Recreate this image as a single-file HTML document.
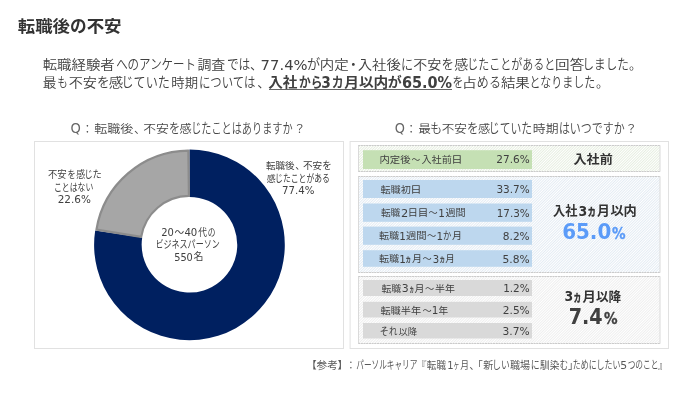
<!DOCTYPE html>
<html lang="ja">
<head>
<meta charset="utf-8">
<title>転職後の不安</title>
<style>
html,body{margin:0;padding:0;background:#fff;}
body{width:700px;height:400px;overflow:hidden;font-family:'DejaVu Sans','Liberation Sans','Noto Sans CJK JP',sans-serif;}
svg{display:block;}
</style>
</head>
<body>
<svg width="700" height="400" viewBox="0 0 700 400" font-family='"DejaVu Sans","Liberation Sans","Noto Sans CJK JP",sans-serif'>
<defs>
<pattern id="hg" width="1.9" height="1.9" patternUnits="userSpaceOnUse" patternTransform="rotate(-45)"><rect width="1.9" height="1.9" fill="#ffffff"/><rect width="1.9" height="0.85" fill="#e4eddd"/></pattern>
<pattern id="hb" width="1.9" height="1.9" patternUnits="userSpaceOnUse" patternTransform="rotate(-45)"><rect width="1.9" height="1.9" fill="#ffffff"/><rect width="1.9" height="0.85" fill="#e0e9f2"/></pattern>
<pattern id="hx" width="1.9" height="1.9" patternUnits="userSpaceOnUse" patternTransform="rotate(-45)"><rect width="1.9" height="1.9" fill="#ffffff"/><rect width="1.9" height="0.85" fill="#ececec"/></pattern>
</defs>
<rect width="700" height="400" fill="#ffffff"/>

<text y="33.3" font-size="18" fill="#333333" font-weight="bold"><tspan x="17.75" textLength="52.20" lengthAdjust="spacingAndGlyphs" y="32.19" font-size="15.66">転職後</tspan><tspan x="70.07" textLength="16.62" lengthAdjust="spacingAndGlyphs" y="32.19" font-size="17.23">の</tspan><tspan x="86.65" textLength="34.95" lengthAdjust="spacingAndGlyphs" y="32.19" font-size="15.66">不安</tspan></text>
<text y="69.6" font-size="14.67" fill="#404040"><tspan x="42.65" textLength="72.15" lengthAdjust="spacingAndGlyphs" y="69.05" font-size="12.68" font-weight="350">転職経験者</tspan><tspan x="116.14" textLength="79.97" lengthAdjust="spacingAndGlyphs" y="69.05" font-size="13.69" font-weight="350">へのアンケート</tspan><tspan x="197.40" textLength="27.94" lengthAdjust="spacingAndGlyphs" y="69.05" font-size="12.68" font-weight="350">調査</tspan><tspan x="226.90" textLength="23.45" lengthAdjust="spacingAndGlyphs" y="69.05" font-size="13.69" font-weight="350">では</tspan><tspan x="249.91" y="69.05" font-size="12.68" font-weight="350">、</tspan><tspan x="260.64" textLength="46.96" lengthAdjust="spacingAndGlyphs" y="69.60">77.4%</tspan><tspan x="306.92" textLength="13.18" lengthAdjust="spacingAndGlyphs" y="69.05" font-size="13.69" font-weight="350">が</tspan><tspan x="319.88" textLength="28.98" lengthAdjust="spacingAndGlyphs" y="69.05" font-size="12.68" font-weight="350">内定</tspan><tspan x="346.40" y="69.05" font-size="13.69" font-weight="350">・</tspan><tspan x="357.65" textLength="43.20" lengthAdjust="spacingAndGlyphs" y="69.05" font-size="12.68" font-weight="350">入社後</tspan><tspan x="400.93" textLength="12.15" lengthAdjust="spacingAndGlyphs" y="69.05" font-size="13.69" font-weight="350">に</tspan><tspan x="413.15" textLength="28.19" lengthAdjust="spacingAndGlyphs" y="69.05" font-size="12.68" font-weight="350">不安</tspan><tspan x="441.61" textLength="12.47" lengthAdjust="spacingAndGlyphs" y="69.05" font-size="13.69" font-weight="350">を</tspan><tspan x="454.26" textLength="13.98" lengthAdjust="spacingAndGlyphs" y="69.05" font-size="12.68" font-weight="350">感</tspan><tspan x="467.33" textLength="88.06" lengthAdjust="spacingAndGlyphs" y="69.05" font-size="13.69" font-weight="350">じたことがあると</tspan><tspan x="555.14" textLength="29.21" lengthAdjust="spacingAndGlyphs" y="69.05" font-size="12.68" font-weight="350">回答</tspan><tspan x="582.53" textLength="46.36" lengthAdjust="spacingAndGlyphs" y="69.05" font-size="13.69" font-weight="350">しました</tspan><tspan x="629.04" y="69.05" font-size="12.68" font-weight="350">。</tspan></text>
<text y="87.9" font-size="14.67" fill="#404040"><tspan x="42.66" textLength="13.69" lengthAdjust="spacingAndGlyphs" y="87.04" font-size="12.79" font-weight="350">最</tspan><tspan x="57.16" textLength="10.51" lengthAdjust="spacingAndGlyphs" y="87.04" font-size="13.81" font-weight="350">も</tspan><tspan x="68.65" textLength="28.19" lengthAdjust="spacingAndGlyphs" y="87.04" font-size="12.79" font-weight="350">不安</tspan><tspan x="97.05" textLength="12.67" lengthAdjust="spacingAndGlyphs" y="87.04" font-size="13.81" font-weight="350">を</tspan><tspan x="108.66" textLength="14.44" lengthAdjust="spacingAndGlyphs" y="87.04" font-size="12.79" font-weight="350">感</tspan><tspan x="121.54" textLength="48.35" lengthAdjust="spacingAndGlyphs" y="87.04" font-size="13.81" font-weight="350">じていた</tspan><tspan x="171.39" textLength="26.71" lengthAdjust="spacingAndGlyphs" y="87.04" font-size="12.79" font-weight="350">時期</tspan><tspan x="198.89" textLength="56.46" lengthAdjust="spacingAndGlyphs" y="87.04" font-size="13.81" font-weight="350">については</tspan><tspan x="257.36" y="87.04" font-size="12.79" font-weight="350">、</tspan><tspan x="268.25" textLength="29.25" lengthAdjust="spacingAndGlyphs" font-weight="bold" y="87.04" font-size="13.25">入社</tspan><tspan x="298.94" textLength="23.48" lengthAdjust="spacingAndGlyphs" font-weight="bold" y="87.04" font-size="13.37">から</tspan><tspan x="321.37" textLength="9.53" lengthAdjust="spacingAndGlyphs" font-weight="bold" font-size="16" y="87.60">3</tspan><tspan x="331.84" textLength="11.85" lengthAdjust="spacingAndGlyphs" font-weight="bold" y="87.04" font-size="13.37">カ</tspan><tspan x="344.20" textLength="44.10" lengthAdjust="spacingAndGlyphs" font-weight="bold" y="87.04" font-size="13.25">月以内</tspan><tspan x="387.67" textLength="13.94" lengthAdjust="spacingAndGlyphs" font-weight="bold" y="87.04" font-size="13.37">が</tspan><tspan x="401.90" textLength="50.20" lengthAdjust="spacingAndGlyphs" font-weight="bold" font-size="16" y="87.60">65.0%</tspan><tspan x="452.59" textLength="10.84" lengthAdjust="spacingAndGlyphs" y="87.04" font-size="13.81" font-weight="350">を</tspan><tspan x="461.91" textLength="14.78" lengthAdjust="spacingAndGlyphs" y="87.04" font-size="12.79" font-weight="350">占</tspan><tspan x="476.87" textLength="24.05" lengthAdjust="spacingAndGlyphs" y="87.04" font-size="13.81" font-weight="350">める</tspan><tspan x="500.90" textLength="28.94" lengthAdjust="spacingAndGlyphs" y="87.04" font-size="12.79" font-weight="350">結果</tspan><tspan x="529.60" textLength="65.51" lengthAdjust="spacingAndGlyphs" y="87.04" font-size="13.81" font-weight="350">となりました</tspan><tspan x="595.98" y="87.04" font-size="12.79" font-weight="350">。</tspan></text>
<rect x="269" y="89" width="183" height="0.9" fill="#555555"/>
<text y="133.2" font-size="13.3" fill="#484848"><tspan x="70.51" textLength="10.33" lengthAdjust="spacingAndGlyphs" y="133.20" fill="#666666">Q</tspan><tspan x="81.42" y="132.91" font-size="11.80" font-weight="350">：</tspan><tspan x="94.25" textLength="39.14" lengthAdjust="spacingAndGlyphs" y="132.91" font-size="11.80" font-weight="350">転職後</tspan><tspan x="133.97" y="132.91" font-size="11.80" font-weight="350">、</tspan><tspan x="143.15" textLength="25.69" lengthAdjust="spacingAndGlyphs" y="132.91" font-size="11.80" font-weight="350">不安</tspan><tspan x="169.08" textLength="11.15" lengthAdjust="spacingAndGlyphs" y="132.91" font-size="13.81" font-weight="350">を</tspan><tspan x="179.41" textLength="12.18" lengthAdjust="spacingAndGlyphs" y="132.91" font-size="11.80" font-weight="350">感</tspan><tspan x="191.13" textLength="101.47" lengthAdjust="spacingAndGlyphs" y="132.91" font-size="13.81" font-weight="350">じたことはありますか</tspan><tspan x="293.67" y="132.91" font-size="11.80" font-weight="350">？</tspan></text>
<text y="133.2" font-size="13.3" fill="#484848"><tspan x="394.66" textLength="10.18" lengthAdjust="spacingAndGlyphs" y="133.20" fill="#666666">Q</tspan><tspan x="405.22" y="132.91" font-size="11.80" font-weight="350">：</tspan><tspan x="418.16" textLength="12.69" lengthAdjust="spacingAndGlyphs" y="132.91" font-size="11.80" font-weight="350">最</tspan><tspan x="430.08" textLength="12.15" lengthAdjust="spacingAndGlyphs" y="132.91" font-size="13.81" font-weight="350">も</tspan><tspan x="441.65" textLength="25.19" lengthAdjust="spacingAndGlyphs" y="132.91" font-size="11.80" font-weight="350">不安</tspan><tspan x="467.02" textLength="11.53" lengthAdjust="spacingAndGlyphs" y="132.91" font-size="13.81" font-weight="350">を</tspan><tspan x="477.91" textLength="12.18" lengthAdjust="spacingAndGlyphs" y="132.91" font-size="11.80" font-weight="350">感</tspan><tspan x="488.81" textLength="43.32" lengthAdjust="spacingAndGlyphs" y="132.91" font-size="13.81" font-weight="350">じていた</tspan><tspan x="532.89" textLength="25.71" lengthAdjust="spacingAndGlyphs" y="132.91" font-size="11.80" font-weight="350">時期</tspan><tspan x="558.90" textLength="65.70" lengthAdjust="spacingAndGlyphs" y="132.91" font-size="13.81" font-weight="350">はいつですか</tspan><tspan x="625.17" y="132.91" font-size="11.80" font-weight="350">？</tspan></text>
<rect x="34.5" y="141.5" width="309" height="207" fill="#ffffff" stroke="#e1e1e1" stroke-width="1"/>
<rect x="350.1" y="141.5" width="318.4" height="207" fill="#ffffff" stroke="#e1e1e1" stroke-width="1"/>
<path d="M189.45 149.45 A95.35 95.35 0 1 1 95.18 230.48 L142.19 237.62 A47.80 47.80 0 1 0 189.45 197.00 Z" fill="#002060"/>
<path d="M96.44 229.59 A94.25 94.25 0 0 1 188.38 150.56 L188.90 195.90 A48.90 48.90 0 0 0 141.19 236.91 Z" fill="#a6a6a6" stroke="#8c8c8c" stroke-width="2.2" stroke-linejoin="round"/>
<text y="178.6" font-size="10.4" fill="#404040"><tspan x="47.91" textLength="18.68" lengthAdjust="spacingAndGlyphs" y="178.47" font-size="9.73" font-weight="400">不安</tspan><tspan x="67.38" textLength="8.24" lengthAdjust="spacingAndGlyphs" y="178.47" font-size="10.70" font-weight="400">を</tspan><tspan x="76.15" textLength="8.96" lengthAdjust="spacingAndGlyphs" y="178.47" font-size="9.73" font-weight="400">感</tspan><tspan x="84.43" textLength="8.26" lengthAdjust="spacingAndGlyphs" y="178.47" font-size="10.70" font-weight="400">じ</tspan><tspan x="92.38" textLength="9.23" lengthAdjust="spacingAndGlyphs" y="178.47" font-size="10.70" font-weight="400">た</tspan></text>
<text y="190.8" font-size="10.4" fill="#404040"><tspan x="53.89" textLength="39.47" lengthAdjust="spacingAndGlyphs" y="190.77" font-size="10.70" font-weight="400">ことはない</tspan></text>
<text y="202.7" font-size="10.4" fill="#404040"><tspan x="57.65" textLength="33.19" lengthAdjust="spacingAndGlyphs" y="202.70">22.6%</tspan></text>
<text y="169.1" font-size="10.4" fill="#404040"><tspan x="265.90" textLength="28.71" lengthAdjust="spacingAndGlyphs" y="169.08" font-size="9.62" font-weight="400">転職後</tspan><tspan x="295.15" y="169.08" font-size="9.62" font-weight="400">、</tspan><tspan x="302.91" textLength="19.19" lengthAdjust="spacingAndGlyphs" y="169.08" font-size="9.62" font-weight="400">不安</tspan><tspan x="322.36" textLength="9.54" lengthAdjust="spacingAndGlyphs" y="169.08" font-size="10.58" font-weight="400">を</tspan></text>
<text y="181.6" font-size="10.4" fill="#404040"><tspan x="266.65" textLength="8.96" lengthAdjust="spacingAndGlyphs" y="181.58" font-size="9.62" font-weight="400">感</tspan><tspan x="275.12" textLength="54.75" lengthAdjust="spacingAndGlyphs" y="181.58" font-size="10.58" font-weight="400">じたことがある</tspan></text>
<text y="193.7" font-size="10.4" fill="#404040"><tspan x="281.90" textLength="32.45" lengthAdjust="spacingAndGlyphs" y="193.70">77.4%</tspan></text>
<text y="235.7" font-size="10.4" fill="#404040"><tspan x="161.16" textLength="12.68" lengthAdjust="spacingAndGlyphs" y="235.70">20</tspan><tspan x="174.41" textLength="9.67" lengthAdjust="spacingAndGlyphs" y="235.97" font-size="9.73" font-weight="400">～</tspan><tspan x="184.41" textLength="12.92" lengthAdjust="spacingAndGlyphs" y="235.70">40</tspan><tspan x="198.14" textLength="8.72" lengthAdjust="spacingAndGlyphs" y="235.97" font-size="9.73" font-weight="400">代</tspan><tspan x="207.67" textLength="7.67" lengthAdjust="spacingAndGlyphs" y="235.97" font-size="10.70" font-weight="400">の</tspan></text>
<text y="248.4" font-size="10.4" fill="#404040"><tspan x="155.39" textLength="64.46" lengthAdjust="spacingAndGlyphs" y="248.27" font-size="10.70" font-weight="400">ビジネスパーソン</tspan></text>
<text y="260.5" font-size="10.4" fill="#404040"><tspan x="174.16" textLength="18.69" lengthAdjust="spacingAndGlyphs" y="260.50">550</tspan><tspan x="193.40" textLength="9.95" lengthAdjust="spacingAndGlyphs" y="260.47" font-size="9.73" font-weight="400">名</tspan></text>
<rect x="358.5" y="145.5" width="301.5" height="26.0" fill="url(#hg)"/><path d="M358.0 145.5H660.5M358.0 171.5H660.5" stroke="#cbcbcb" stroke-width="1" stroke-dasharray="2.2 0.5" fill="none"/><path d="M358.5 145.5V171.5M660.0 145.5V171.5" stroke="#dadada" stroke-width="1" fill="none"/>
<rect x="358.5" y="176.5" width="301.5" height="96.0" fill="url(#hb)"/><path d="M358.0 176.5H660.5M358.0 272.5H660.5" stroke="#cbcbcb" stroke-width="1" stroke-dasharray="2.2 0.5" fill="none"/><path d="M358.5 176.5V272.5M660.0 176.5V272.5" stroke="#dadada" stroke-width="1" fill="none"/>
<rect x="358.5" y="276.5" width="301.5" height="67.0" fill="url(#hx)"/><path d="M358.0 276.5H660.5M358.0 343.5H660.5" stroke="#cbcbcb" stroke-width="1" stroke-dasharray="2.2 0.5" fill="none"/><path d="M358.5 276.5V343.5M660.0 276.5V343.5" stroke="#dadada" stroke-width="1" fill="none"/>
<rect x="363" y="150.2" width="169" height="18.8" fill="#c5e0b4"/>
<text y="163.4" font-size="10.4" fill="#404040"><tspan x="379.41" textLength="31.19" lengthAdjust="spacingAndGlyphs" y="163.01" font-size="9.18" font-weight="400">内定後</tspan><tspan x="411.42" textLength="8.67" lengthAdjust="spacingAndGlyphs" y="163.01" font-size="9.18" font-weight="400">～</tspan><tspan x="421.40" textLength="30.44" lengthAdjust="spacingAndGlyphs" y="163.01" font-size="9.18" font-weight="400">入社前</tspan><tspan x="451.33" textLength="11.33" lengthAdjust="spacingAndGlyphs" y="163.01" font-size="9.18" font-weight="400">日</tspan><tspan x="496.35" textLength="33.35" lengthAdjust="spacingAndGlyphs" y="163.40">27.6%</tspan></text>
<rect x="363" y="180.0" width="169" height="18.0" fill="#bdd7ee"/>
<text y="192.9" font-size="10.4" fill="#404040"><tspan x="380.40" textLength="30.44" lengthAdjust="spacingAndGlyphs" y="192.51" font-size="9.18" font-weight="400">転職初</tspan><tspan x="410.33" textLength="11.33" lengthAdjust="spacingAndGlyphs" y="192.51" font-size="9.18" font-weight="400">日</tspan><tspan x="496.40" textLength="33.30" lengthAdjust="spacingAndGlyphs" y="192.90">33.7%</tspan></text>
<rect x="363" y="203.5" width="169" height="18.3" fill="#bdd7ee"/>
<text y="216.7" font-size="10.4" fill="#404040"><tspan x="380.90" textLength="19.40" lengthAdjust="spacingAndGlyphs" y="216.31" font-size="9.18" font-weight="400">転職</tspan><tspan x="401.13" textLength="7.24" lengthAdjust="spacingAndGlyphs" y="216.70">2</tspan><tspan x="407.66" textLength="10.18" lengthAdjust="spacingAndGlyphs" y="216.31" font-size="9.18" font-weight="400">日</tspan><tspan x="417.68" textLength="10.64" lengthAdjust="spacingAndGlyphs" y="216.31" font-size="9.18" font-weight="400">目</tspan><tspan x="428.41" textLength="9.12" lengthAdjust="spacingAndGlyphs" y="216.31" font-size="9.18" font-weight="400">～</tspan><tspan x="438.30" y="216.70">1</tspan><tspan x="445.40" textLength="20.19" lengthAdjust="spacingAndGlyphs" y="216.31" font-size="9.18" font-weight="400">週間</tspan><tspan x="496.65" textLength="33.06" lengthAdjust="spacingAndGlyphs" y="216.70">17.3%</tspan></text>
<rect x="363" y="226.6" width="169" height="18.2" fill="#bdd7ee"/>
<text y="239.7" font-size="10.4" fill="#404040"><tspan x="378.91" textLength="20.20" lengthAdjust="spacingAndGlyphs" y="239.31" font-size="9.18" font-weight="400">転職</tspan><tspan x="399.30" y="239.70">1</tspan><tspan x="405.90" textLength="20.69" lengthAdjust="spacingAndGlyphs" y="239.31" font-size="9.18" font-weight="400">週間</tspan><tspan x="426.91" textLength="9.17" lengthAdjust="spacingAndGlyphs" y="239.31" font-size="9.18" font-weight="400">～</tspan><tspan x="436.55" y="239.70">1</tspan><tspan x="442.88" textLength="8.26" lengthAdjust="spacingAndGlyphs" y="239.31" font-size="10.10" font-weight="400">か</tspan><tspan x="451.90" textLength="10.03" lengthAdjust="spacingAndGlyphs" y="239.31" font-size="9.18" font-weight="400">月</tspan><tspan x="502.81" textLength="26.89" lengthAdjust="spacingAndGlyphs" y="239.70">8.2%</tspan></text>
<rect x="363" y="250.2" width="169" height="16.6" fill="#bdd7ee"/>
<text y="262.7" font-size="10.4" fill="#404040"><tspan x="378.91" textLength="20.20" lengthAdjust="spacingAndGlyphs" y="262.31" font-size="9.18" font-weight="400">転職</tspan><tspan x="399.30" y="262.70">1</tspan><tspan x="405.33" textLength="6.11" lengthAdjust="spacingAndGlyphs" y="262.31" font-size="9.18" font-weight="400" stroke="#404040" stroke-width="0.3" stroke-linejoin="round">ヵ</tspan><tspan x="411.90" textLength="10.03" lengthAdjust="spacingAndGlyphs" y="262.31" font-size="9.18" font-weight="400">月</tspan><tspan x="422.41" textLength="9.17" lengthAdjust="spacingAndGlyphs" y="262.31" font-size="9.18" font-weight="400">～</tspan><tspan x="432.66" textLength="6.45" lengthAdjust="spacingAndGlyphs" y="262.70">3</tspan><tspan x="439.33" textLength="6.11" lengthAdjust="spacingAndGlyphs" y="262.31" font-size="9.18" font-weight="400" stroke="#404040" stroke-width="0.3" stroke-linejoin="round">ヵ</tspan><tspan x="445.39" textLength="9.54" lengthAdjust="spacingAndGlyphs" y="262.31" font-size="9.18" font-weight="400">月</tspan><tspan x="502.55" textLength="27.15" lengthAdjust="spacingAndGlyphs" y="262.70">5.8%</tspan></text>
<rect x="363" y="280.0" width="169" height="16.0" fill="#d9d9d9"/>
<text y="292.4" font-size="10.4" fill="#404040"><tspan x="381.40" textLength="19.71" lengthAdjust="spacingAndGlyphs" y="292.01" font-size="9.18" font-weight="400">転職</tspan><tspan x="401.65" textLength="6.95" lengthAdjust="spacingAndGlyphs" y="292.40">3</tspan><tspan x="409.15" textLength="4.94" lengthAdjust="spacingAndGlyphs" y="292.01" font-size="9.18" font-weight="400" stroke="#404040" stroke-width="0.3" stroke-linejoin="round">ヵ</tspan><tspan x="414.40" textLength="10.03" lengthAdjust="spacingAndGlyphs" y="292.01" font-size="9.18" font-weight="400">月</tspan><tspan x="424.91" textLength="9.17" lengthAdjust="spacingAndGlyphs" y="292.01" font-size="9.18" font-weight="400">～</tspan><tspan x="435.10" textLength="19.99" lengthAdjust="spacingAndGlyphs" y="292.01" font-size="9.18" font-weight="400">半年</tspan><tspan x="503.15" textLength="26.56" lengthAdjust="spacingAndGlyphs" y="292.40">1.2%</tspan></text>
<rect x="363" y="301.8" width="169" height="15.7" fill="#d9d9d9"/>
<text y="314.2" font-size="10.4" fill="#404040"><tspan x="380.40" textLength="40.69" lengthAdjust="spacingAndGlyphs" y="313.81" font-size="9.18" font-weight="400">転職半年</tspan><tspan x="422.41" textLength="9.17" lengthAdjust="spacingAndGlyphs" y="313.81" font-size="9.18" font-weight="400">～</tspan><tspan x="431.77" y="314.20">1</tspan><tspan x="438.41" textLength="9.67" lengthAdjust="spacingAndGlyphs" y="313.81" font-size="9.18" font-weight="400">年</tspan><tspan x="502.81" textLength="26.89" lengthAdjust="spacingAndGlyphs" y="314.20">2.5%</tspan></text>
<rect x="363" y="323.0" width="169" height="15.5" fill="#d9d9d9"/>
<text y="335.4" font-size="10.4" fill="#404040"><tspan x="379.86" textLength="9.03" lengthAdjust="spacingAndGlyphs" y="335.01" font-size="10.10" font-weight="400">そ</tspan><tspan x="388.92" textLength="8.44" lengthAdjust="spacingAndGlyphs" y="335.01" font-size="10.10" font-weight="400">れ</tspan><tspan x="398.40" textLength="18.71" lengthAdjust="spacingAndGlyphs" y="335.01" font-size="9.18" font-weight="400">以降</tspan><tspan x="502.55" textLength="27.15" lengthAdjust="spacingAndGlyphs" y="335.40">3.7%</tspan></text>
<text y="164.4" font-size="13.4" fill="#333333" font-weight="bold"><tspan x="573.55" textLength="39.19" lengthAdjust="spacingAndGlyphs" y="164.11" font-size="12.06">入社前</tspan></text>
<text y="216.2" font-size="13.4" fill="#333333" font-weight="bold"><tspan x="552.91" textLength="24.45" lengthAdjust="spacingAndGlyphs" y="215.17" font-size="12.59">入社</tspan><tspan x="578.38" textLength="8.73" lengthAdjust="spacingAndGlyphs" y="216.20">3</tspan><tspan x="587.01" textLength="9.55" lengthAdjust="spacingAndGlyphs" y="215.17" font-size="12.59" stroke="#333333" stroke-width="0.35" stroke-linejoin="round">ヵ</tspan><tspan x="596.90" textLength="12.81" lengthAdjust="spacingAndGlyphs" y="215.17" font-size="12.59">月</tspan><tspan x="610.40" textLength="26.45" lengthAdjust="spacingAndGlyphs" y="215.17" font-size="12.59">以内</tspan></text>
<text y="239.3" font-size="21.8" fill="#5b9bf8" font-weight="bold"><tspan x="562.14" textLength="49.12" lengthAdjust="spacingAndGlyphs" y="239.30">65.0</tspan><tspan x="611.90" textLength="13.55" lengthAdjust="spacingAndGlyphs" font-size="15.2" y="239.30" fill="#5b9bf8" stroke="#5b9bf8" stroke-width="0.35" stroke-linejoin="round">%</tspan></text>
<text y="301.2" font-size="13.4" fill="#333333" font-weight="bold"><tspan x="564.38" textLength="8.73" lengthAdjust="spacingAndGlyphs" y="301.20">3</tspan><tspan x="573.03" textLength="8.75" lengthAdjust="spacingAndGlyphs" y="300.76" font-size="12.70" stroke="#333333" stroke-width="0.35" stroke-linejoin="round">ヵ</tspan><tspan x="582.40" textLength="13.31" lengthAdjust="spacingAndGlyphs" y="300.76" font-size="12.70">月</tspan><tspan x="595.90" textLength="25.26" lengthAdjust="spacingAndGlyphs" y="300.76" font-size="12.70">以降</tspan></text>
<text y="324.4" font-size="21.6" fill="#404040" font-weight="bold"><tspan x="568.64" textLength="33.97" lengthAdjust="spacingAndGlyphs" y="324.40">7.4</tspan><tspan x="603.89" textLength="13.55" lengthAdjust="spacingAndGlyphs" font-size="15.2" y="324.40" fill="#404040" stroke="#404040" stroke-width="0.35" stroke-linejoin="round">%</tspan></text>
<text y="369.2" font-size="10" fill="#595959"><tspan x="306.41" y="369.23" font-size="10.27" font-weight="400">【</tspan><tspan x="316.55" textLength="21.24" lengthAdjust="spacingAndGlyphs" y="369.23" font-size="10.27" font-weight="400">参考</tspan><tspan x="337.61" y="369.23" font-size="10.27" font-weight="400">】</tspan><tspan x="345.86" y="369.23" font-size="10.27" font-weight="400">：</tspan><tspan x="356.25" textLength="61.10" lengthAdjust="spacingAndGlyphs" y="369.23" font-size="11.51" font-weight="400">パーソルキャリア</tspan><tspan x="416.24" y="369.23" font-size="10.27" font-weight="400">『</tspan><tspan x="426.86" textLength="19.10" lengthAdjust="spacingAndGlyphs" y="369.23" font-size="10.27" font-weight="400">転職</tspan><tspan x="447.28" y="369.20">1</tspan><tspan x="453.34" textLength="6.26" lengthAdjust="spacingAndGlyphs" y="369.23" font-size="11.51" font-weight="400">ヶ</tspan><tspan x="460.34" textLength="8.77" lengthAdjust="spacingAndGlyphs" y="369.23" font-size="10.27" font-weight="400">月</tspan><tspan x="469.29" y="369.23" font-size="10.27" font-weight="400">、</tspan><tspan x="472.41" y="369.23" font-size="10.27" font-weight="400">「</tspan><tspan x="483.25" textLength="10.00" lengthAdjust="spacingAndGlyphs" y="369.23" font-size="10.27" font-weight="400">新</tspan><tspan x="492.27" textLength="17.55" lengthAdjust="spacingAndGlyphs" y="369.23" font-size="11.51" font-weight="400">しい</tspan><tspan x="509.89" textLength="20.21" lengthAdjust="spacingAndGlyphs" y="369.23" font-size="10.27" font-weight="400">職場</tspan><tspan x="530.73" textLength="8.94" lengthAdjust="spacingAndGlyphs" y="369.23" font-size="11.51" font-weight="400">に</tspan><tspan x="539.90" textLength="19.50" lengthAdjust="spacingAndGlyphs" y="369.23" font-size="10.27" font-weight="400">馴染</tspan><tspan x="559.66" textLength="8.33" lengthAdjust="spacingAndGlyphs" y="369.23" font-size="11.51" font-weight="400">む</tspan><tspan x="567.99" y="369.23" font-size="10.27" font-weight="400">」</tspan><tspan x="572.85" textLength="47.50" lengthAdjust="spacingAndGlyphs" y="369.23" font-size="11.51" font-weight="400">ためにしたい</tspan><tspan x="620.39" textLength="6.92" lengthAdjust="spacingAndGlyphs" y="369.20">5</tspan><tspan x="627.65" textLength="30.86" lengthAdjust="spacingAndGlyphs" y="369.23" font-size="11.51" font-weight="400">つのこと</tspan><tspan x="657.71" y="369.23" font-size="10.27" font-weight="400">』</tspan></text>

</svg>
</body>
</html>
